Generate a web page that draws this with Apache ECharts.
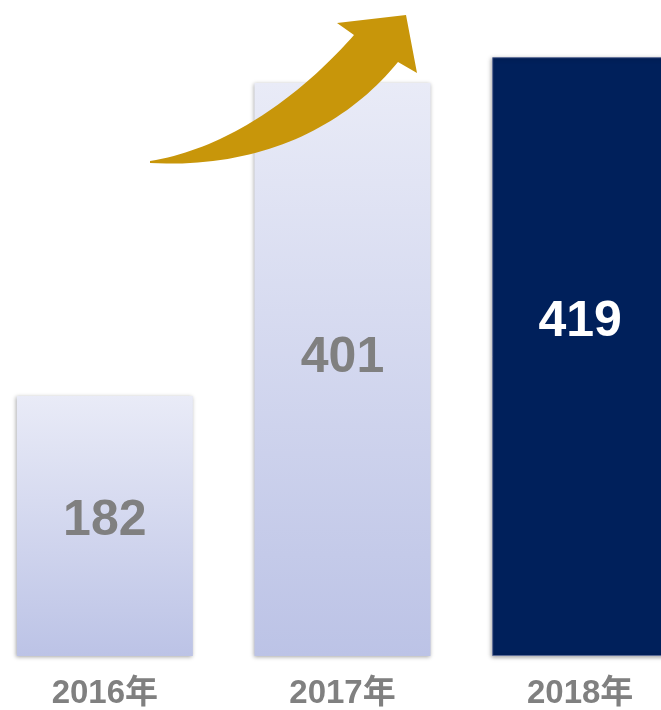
<!DOCTYPE html>
<html>
<head>
<meta charset="utf-8">
<script src="https://cdn.jsdelivr.net/npm/echarts@6/dist/echarts.min.js"></script>
<style>
  html, body { margin: 0; padding: 0; background: #fff; }
  #chart { width: 661px; height: 710px; }
</style>
</head>
<body>
<div id="chart"></div>
<script>
// 数据
const years = ['2016年', '2017年', '2018年'];
const values = [182, 401, 419];

const chart = echarts.init(document.getElementById('chart'));

// 浅色渐变柱子
const lightFill = () => ({
  type: 'linear', x: 0, y: 0, x2: 0, y2: 1,
  colorStops: [
    { offset: 0, color: '#e9ebf7' },
    { offset: 1, color: '#bcc3e6' }
  ]
});

const barData = values.map((v, i) => {
  const last = i === values.length - 1;
  return {
    value: v,
    itemStyle: last
      ? { color: '#00205b', borderColor: '#5a6a96', borderWidth: 1 }
      : { color: lightFill() },
    label: {
      color: last ? '#ffffff' : '#808080',
      position: ['50%', last ? '44.3%' : '48%']
    }
  };
});

// 三次贝塞尔采样，用于画装饰箭头
function cubic(p0, p1, p2, p3, n) {
  const pts = [];
  for (let k = 0; k <= n; k++) {
    const t = k / n, u = 1 - t;
    pts.push([
      u * u * u * p0[0] + 3 * u * u * t * p1[0] + 3 * u * t * t * p2[0] + t * t * t * p3[0],
      u * u * u * p0[1] + 3 * u * u * t * p1[1] + 3 * u * t * t * p2[1] + t * t * t * p3[1]
    ]);
  }
  return pts;
}
const arrowPts = [].concat(
  cubic([150, 161], [230, 148], [302, 94], [354, 35], 40),
  [[337, 23], [406, 15], [417, 73]],
  cubic([398, 62], [345, 127], [260, 169], [150, 163], 40)
);

const option = {
  animation: false,
  grid: { left: -14, right: -38, top: 0, bottom: 54, outerBoundsMode: 'none' },
  xAxis: {
    type: 'category',
    data: years,
    axisLine: { show: false },
    axisTick: { show: false },
    axisLabel: {
      margin: 21,
      fontSize: 33,
      fontWeight: 'bold',
      color: '#808080',
      fontFamily: 'Liberation Sans, Noto Sans CJK SC, sans-serif'
    }
  },
  yAxis: {
    type: 'value',
    min: 0,
    max: 459,
    show: false,
    splitLine: { show: false }
  },
  series: [
    {
      type: 'bar',
      barWidth: 176,
      data: barData,
      itemStyle: {
        shadowBlur: 4,
        shadowColor: 'rgba(0,0,0,0.35)',
        shadowOffsetX: -1,
        shadowOffsetY: 1
      },
      label: {
        show: true,
        align: 'center',
        verticalAlign: 'middle',
        fontSize: 50,
        fontWeight: 'bold',
        fontFamily: 'Liberation Sans, Arial, sans-serif'
      }
    }
  ],
  // 上升箭头（装饰）
  graphic: [
    {
      type: 'polygon',
      shape: { points: arrowPts },
      style: { fill: '#c8960a' },
      z: 100
    }
  ]
};

chart.setOption(option);
</script>
</body>
</html>
